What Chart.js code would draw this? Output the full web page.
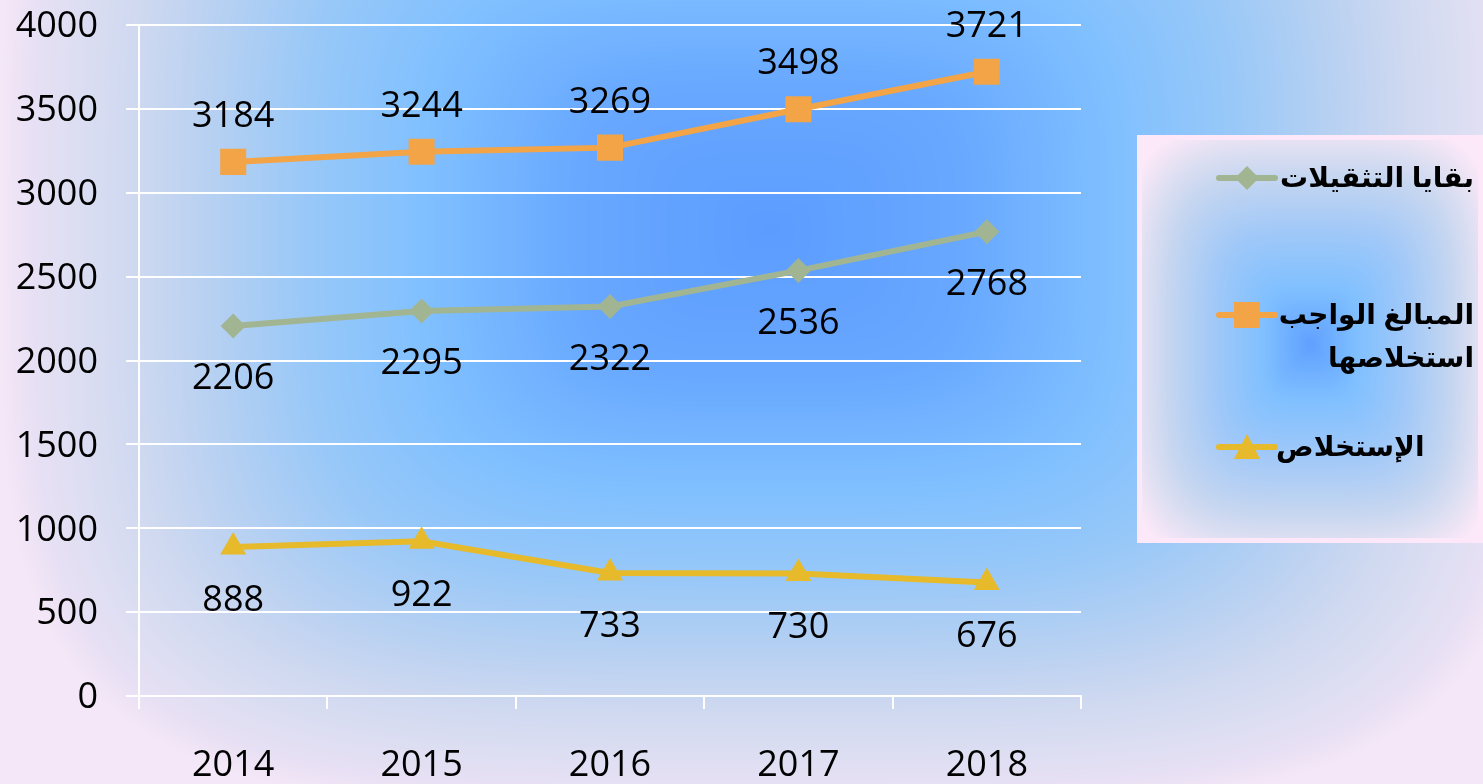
<!DOCTYPE html>
<html lang="ar">
<head>
<meta charset="utf-8">
<script src="https://cdn.jsdelivr.net/npm/chart.js@4.4.1/dist/chart.umd.min.js"></script>
<style>
  html, body { margin: 0; padding: 0; }
  body { width: 1483px; height: 784px; overflow: hidden; position: relative; background: #dfe3f4; font-family: "Open Sans", sans-serif; }
  #bg { position: absolute; left: 0; top: 0; }
  #wrap { position: absolute; left: 0; top: 0; width: 1483px; height: 784px; }
  #legend {
    position: absolute; left: 1137px; top: 135px; width: 346px; height: 408px;
    box-sizing: border-box; border: 5px solid #fce8f8; overflow: hidden;
  }
  #lbg { position: absolute; left: 0; top: 0; }
  .item svg { position: absolute; left: 72px; }
  .txt {
    position: absolute; direction: rtl; text-align: right; color: #000;
    font-family: Arial, "Liberation Sans", "DejaVu Sans", sans-serif;
    font-weight: bold; font-size: 28px; line-height: 43px; white-space: nowrap;
  }
</style>
</head>
<body>
<canvas id="bg" width="1483" height="784"></canvas>
<div id="wrap"><canvas id="c" width="1483" height="784"></canvas></div>
<div id="legend">
  <canvas id="lbg" width="336" height="398"></canvas>
  <div class="item">
    <svg width="66" height="30" style="top:23px"><line x1="5" y1="15" x2="61" y2="15" stroke="#a2b592" stroke-width="6" stroke-linecap="round"/><polygon points="33,3 45,15 33,27 21,15" fill="#a2b592"/></svg>
    <div class="txt" id="t0" style="right:4px; top:16px"></div>
  </div>
  <div class="item">
    <svg width="66" height="30" style="top:160px"><line x1="5" y1="15" x2="61" y2="15" stroke="#f2a447" stroke-width="6" stroke-linecap="round"/><rect x="20" y="2" width="26" height="26" fill="#f2a447"/></svg>
    <div class="txt" id="t1" style="right:4px; top:153px"></div>
  </div>
  <div class="item">
    <svg width="66" height="30" style="top:292px"><line x1="5" y1="15" x2="61" y2="15" stroke="#e6ba2a" stroke-width="6" stroke-linecap="round"/><polygon points="33,2 46,27 20,27" fill="#e6ba2a"/></svg>
    <div class="txt" id="t2" style="left:134px; top:285px"></div>
  </div>
</div>
<script>
const categories = ["2014", "2015", "2016", "2017", "2018"];
const seriesNames = ["بقايا التثقيلات", "المبالغ الواجب استخلاصها", "الإستخلاص"];
const legendLines = [["بقايا التثقيلات"], ["المبالغ الواجب", "استخلاصها"], ["الإستخلاص"]];
const remainders = [2206, 2295, 2322, 2536, 2768];
const amountsDue = [3184, 3244, 3269, 3498, 3721];
const collection = [888, 922, 733, 730, 676];
const yTicks = [0, 500, 1000, 1500, 2000, 2500, 3000, 3500, 4000];

// decorative background (soft rectangular "from centre" gradient)
function hex(c) { return [parseInt(c.slice(1,3),16), parseInt(c.slice(3,5),16), parseInt(c.slice(5,7),16)]; }
function paintGradient(canvas, cx, cy, rx, ry, stops, p) {
  const ctx = canvas.getContext('2d');
  const w = canvas.width, h = canvas.height;
  const img = ctx.createImageData(w, h);
  const st = stops.map(s => [s[0], hex(s[1])]);
  for (let y = 0; y < h; y++) {
    const dy = Math.abs(y - cy) / ry;
    for (let x = 0; x < w; x++) {
      const dx = Math.abs(x - cx) / rx;
      let t = Math.pow(Math.pow(dx, p) + Math.pow(dy, p), 1 / p);
      if (t > 1) t = 1;
      let k = 1;
      while (k < st.length - 1 && st[k][0] < t) k++;
      const a = st[k - 1], b = st[k];
      const f = b[0] === a[0] ? 0 : Math.min(1, Math.max(0, (t - a[0]) / (b[0] - a[0])));
      const i = (y * w + x) * 4;
      img.data[i] = a[1][0] + (b[1][0] - a[1][0]) * f;
      img.data[i + 1] = a[1][1] + (b[1][1] - a[1][1]) * f;
      img.data[i + 2] = a[1][2] + (b[1][2] - a[1][2]) * f;
      img.data[i + 3] = 255;
    }
  }
  ctx.putImageData(img, 0, 0);
}
paintGradient(document.getElementById('bg'), 770, 230, 770, 580,
  [[0, '#5c9cff'], [0.25, '#68a8ff'], [0.45, '#80c0ff'], [0.6, '#98c8f8'], [0.72, '#b5d0f2'],
   [0.82, '#cdd8f0'], [0.9, '#dcdef2'], [0.96, '#e8e0f4'], [1, '#f4e7f7']], 4);
paintGradient(document.getElementById('lbg'), 168, 204, 190, 225,
  [[0, '#60a0ff'], [0.25, '#80c0ff'], [0.5, '#a0c8f8'], [0.75, '#c6d6f0'], [0.88, '#e0e0f2'], [1, '#fbe8f8']], 4);

legendLines.forEach((lines, i) => {
  const el = document.getElementById('t' + i);
  lines.forEach((l, k) => {
    if (k) el.appendChild(document.createElement('br'));
    el.appendChild(document.createTextNode(l));
  });
});

const labelPlugin = {
  id: 'valueLabels',
  afterDatasetsDraw(chart) {
    const ctx = chart.ctx;
    ctx.save();
    ctx.font = '36px "Open Sans", sans-serif';
    ctx.fillStyle = '#000';
    ctx.textAlign = 'center';
    ctx.textBaseline = 'middle';
    chart.data.datasets.forEach((ds, i) => {
      const meta = chart.getDatasetMeta(i);
      const off = ds.labelOffset;
      meta.data.forEach((pt, j) => {
        ctx.fillText(String(ds.data[j]), pt.x, pt.y + off);
      });
    });
    ctx.restore();
  }
};

new Chart(document.getElementById('c'), {
  type: 'line',
  data: {
    labels: categories,
    datasets: [
      { label: seriesNames[0], data: remainders, borderColor: '#a2b592', backgroundColor: '#a2b592',
        borderWidth: 6, pointStyle: 'rectRot', pointRadius: 12.5, pointBorderWidth: 0, labelOffset: 53, tension: 0 },
      { label: seriesNames[1], data: amountsDue, borderColor: '#f2a447', backgroundColor: '#f2a447',
        borderWidth: 6, pointStyle: 'rect', pointRadius: 18.4, pointBorderWidth: 0, labelOffset: -45, tension: 0 },
      { label: seriesNames[2], data: collection, borderColor: '#e6ba2a', backgroundColor: '#e6ba2a',
        borderWidth: 6, pointStyle: 'triangle', pointRadius: 15, pointBorderWidth: 0, labelOffset: 54, tension: 0 }
    ]
  },
  options: {
    responsive: false,
    animation: false,
    events: [],
    layout: { padding: { left: 0, top: 25, right: 402, bottom: 0 } },
    plugins: { legend: { display: false }, tooltip: { enabled: false } },
    scales: {
      x: {
        offset: true,
        grid: { display: true, offset: true, drawOnChartArea: false, color: '#ffffff', lineWidth: 2, tickLength: 13, tickColor: '#ffffff' },
        border: { display: true, color: '#ffffff', width: 2 },
        ticks: { color: '#000', font: { family: '"Open Sans", sans-serif', size: 36 }, padding: 35, maxRotation: 0 },
        afterFit(s) { s.height = 88; s.paddingLeft = 0; s.paddingRight = 0; }
      },
      y: {
        min: 0, max: 4000,
        afterBuildTicks(s) { s.ticks = yTicks.map(v => ({ value: v })); },
        grid: { color: '#ffffff', lineWidth: 2, tickLength: 13, tickColor: '#ffffff' },
        border: { display: true, color: '#ffffff', width: 2 },
        ticks: { color: '#000', font: { family: '"Open Sans", sans-serif', size: 36 }, padding: 28, labelOffset: 2,
                 callback: v => String(v) },
        afterFit(s) { s.width = 139; s.paddingTop = 0; s.paddingBottom = 0; }
      }
    }
  },
  plugins: [labelPlugin]
});
</script>
</body>
</html>
